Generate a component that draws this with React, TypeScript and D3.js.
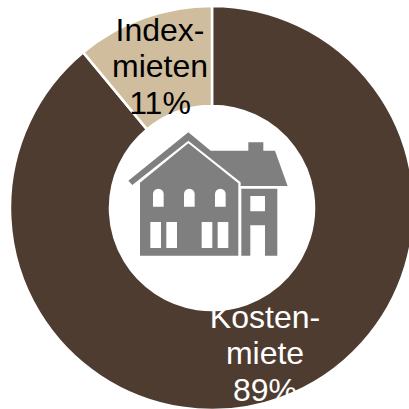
import React from 'react';
import { arc, pie } from 'd3';

const categories = ['Kostenmiete', 'Indexmieten'];
const shares = [89, 11];
const colors = ['#4F3C30', '#CFBD9E'];
const labelLines = [
  ['Kosten-', 'miete', '89%'],
  ['Index-', 'mieten', '11%'],
];
const labelColors = ['#FFFFFF', '#000000'];
const labelSpots = [
  [265, 328],
  [160, 41],
];

const roof =
  'M55 212L235 67L302 122H415V97H460V122H495L533 228H392V217L235 92L67 225Z';
const walls =
  'M90 218L235 100L385 220V437H90Z' +
  'M129 290H161V252A16 16 0 0 0 129 252Z' +
  'M222 290H254V252A16 16 0 0 0 222 252Z' +
  'M315 290H347V252A16 16 0 0 0 315 252Z' +
  'M121 336H153V414H121Z M169 336H201V414H169Z' +
  'M275 336H307V414H275Z M323 336H355V414H323Z';
const annex = 'M394 236H502V437H465V346H421V437H394Z M421 258V304H465V258Z';

const App = () => {
  const width = 409;
  const height = 409;
  const centerX = 212;
  const centerY = 208;

  const slices = pie<number>().value((d) => d).sort(null)(shares);
  const sliceArc = arc<any>().innerRadius(102).outerRadius(202);

  return (
    <svg
      width={width}
      height={height}
      style={{ position: 'absolute', left: 0, top: 0, background: '#fff' }}
      fontFamily="'Liberation Sans', Arial, sans-serif"
    >
      <g transform={`translate(${centerX},${centerY})`}>
        {slices.map((d, i) => (
          <path
            key={categories[i]}
            d={sliceArc(d) as string}
            fill={colors[i]}
            stroke="#fff"
            strokeWidth={2.5}
          />
        ))}
      </g>
      {labelLines.map((lines, i) =>
        lines.map((line, j) => (
          <text
            key={line}
            x={labelSpots[i][0]}
            y={labelSpots[i][1] + j * 36.3}
            textAnchor="middle"
            fontSize={32}
            fill={labelColors[i]}
          >
            {line}
          </text>
        ))
      )}
      {/* house icon, traced at 3x */}
      <g transform="translate(110,110) scale(0.3333)" fill="#7F7F7F" fillRule="evenodd">
        <path d={roof} />
        <path d={walls} />
        <path d={annex} />
      </g>
    </svg>
  );
};

export default App;
